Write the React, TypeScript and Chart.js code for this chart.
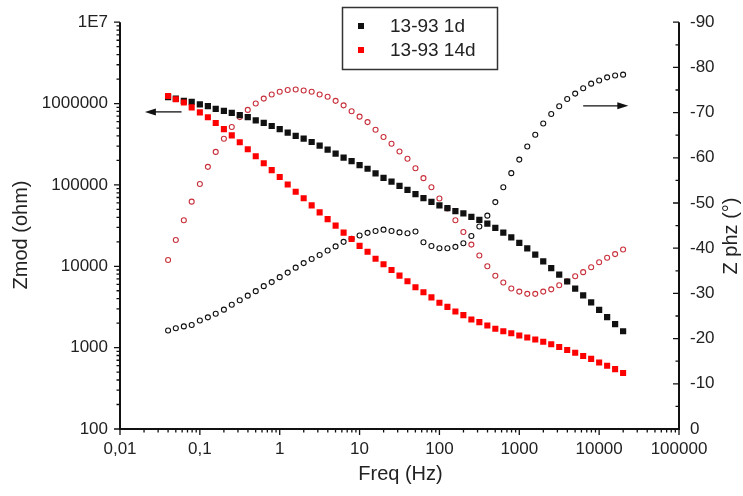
import React, { useEffect, useRef } from 'react';
import { Chart, registerables } from 'chart.js';

Chart.register(...registerables);

const FONT = "'Liberation Sans', Arial, sans-serif";

// Frequencies (Hz)
const freqHz = [
  0.04, 0.05, 0.063, 0.079, 0.1, 0.126, 0.158, 0.2, 0.251, 0.316,
  0.398, 0.501, 0.631, 0.794, 1, 1.259, 1.585, 1.995, 2.512, 3.162,
  3.981, 5.012, 6.31, 7.943, 10, 12.59, 15.85, 19.95, 25.12, 31.62,
  39.81, 50.12, 63.1, 79.43, 100, 125.9, 158.5, 199.5, 251.2, 316.2,
  398.1, 501.2, 631, 794.3, 1000, 1259, 1585, 1995, 2512, 3162,
  3981, 5012, 6310, 7943, 10000, 12589, 15849, 19953,
];

// |Z| (ohm)
const zmod1d = [
  1.2e6, 1.15e6, 1.08e6, 1.05e6, 9.8e5, 9.3e5, 8.6e5, 8.15e5, 7.7e5, 7.2e5,
  6.8e5, 6.2e5, 5.8e5, 5.3e5, 4.85e5, 4.4e5, 4.0e5, 3.7e5, 3.37e5, 3.04e5,
  2.72e5, 2.43e5, 2.17e5, 1.96e5, 1.75e5, 1.58e5, 1.39e5, 1.22e5, 1.1e5, 9.75e4,
  8.7e4, 7.7e4, 6.9e4, 6.2e4, 5.6e4, 5.2e4, 4.77e4, 4.46e4, 4.06e4, 3.71e4,
  3.34e4, 2.96e4, 2.6e4, 2.26e4, 1.94e4, 1.66e4, 1.39e4, 1.15e4, 9.5e3, 7.9e3,
  6.5e3, 5.3e3, 4.4e3, 3.6e3, 2.92e3, 2.37e3, 1.95e3, 1.59e3,
];
const zmod14d = [
  1.24e6, 1.13e6, 1.03e6, 8.97e5, 7.8e5, 6.78e5, 5.78e5, 4.85e5, 4.06e5, 3.34e5,
  2.74e5, 2.25e5, 1.85e5, 1.52e5, 1.25e5, 1.01e5, 8.25e4, 6.85e4, 5.6e4, 4.6e4,
  3.8e4, 3.16e4, 2.59e4, 2.16e4, 1.78e4, 1.51e4, 1.24e4, 1.06e4, 9.0e3, 7.67e3,
  6.56e3, 5.52e3, 4.8e3, 4.15e3, 3.57e3, 3.17e3, 2.78e3, 2.51e3, 2.22e3, 2.06e3,
  1.87e3, 1.71e3, 1.59e3, 1.5e3, 1.41e3, 1.33e3, 1.26e3, 1.18e3, 1.1e3, 1.02e3,
  935, 867, 791, 727, 656, 598, 545, 488,
];

// Phase (degrees)
const phase1d = [
  -21.8, -22.3, -22.7, -23.0, -24.0, -24.7, -25.5, -26.4, -27.5, -28.5,
  -29.5, -30.5, -31.6, -32.5, -33.6, -34.6, -35.7, -36.7, -37.6, -38.5,
  -39.5, -40.4, -41.4, -42.1, -42.8, -43.4, -43.8, -44.1, -43.8, -43.5,
  -43.3, -43.7, -41.3, -40.5, -40.0, -40.0, -40.3, -41.1, -42.7, -44.8,
  -47.2, -50.2, -53.5, -56.6, -59.6, -62.5, -65.1, -67.6, -69.7, -71.4,
  -73.0, -74.2, -75.4, -76.4, -77.1, -77.8, -78.2, -78.4,
];
const phase14d = [
  -37.4, -41.8, -46.2, -50.3, -54.2, -58.0, -61.3, -64.2, -66.8, -69.0,
  -70.6, -72.0, -73.1, -74.0, -74.6, -75.0, -75.1, -74.9, -74.6, -74.0,
  -73.5, -72.6, -71.6, -70.3, -69.1, -67.9, -66.2, -64.6, -63.1, -61.4,
  -59.8, -57.7, -55.5, -53.5, -51.0, -48.8, -46.2, -43.6, -40.8, -38.4,
  -36.0, -33.9, -32.4, -31.1, -30.4, -29.9, -29.9, -30.4, -30.9, -31.8,
  -32.7, -33.8, -34.7, -35.8, -36.9, -37.9, -38.7, -39.7,
];

// Ticks
const xTickValues = [0.01, 0.1, 1, 10, 100, 1000, 10000, 100000];
const xTickLabels = ['0,01', '0,1', '1', '10', '100', '1000', '10000', '100000'];
const yTickValues = [100, 1000, 10000, 100000, 1000000, 10000000];
const yTickLabels = ['100', '1000', '10000', '100000', '1000000', '1E7'];
const phaseTickValues = [-90, -80, -70, -60, -50, -40, -30, -20, -10, 0];
const phaseTickLabels = ['-90', '-80', '-70', '-60', '-50', '-40', '-30', '-20', '-10', '0'];
const minorMultipliers = [2, 3, 4, 5, 6, 7, 8, 9];
const phaseMinorTicks = [-85, -75, -65, -55, -45, -35, -25, -15, -5];

// Labels
const seriesLabels = ['13-93 1d', '13-93 14d'];
const xTitle = 'Freq (Hz)';
const yTitle = 'Zmod (ohm)';
const y2Title = 'Z phz (°)';

// Arrows (data coordinates)
const leftArrow = { fromX: 0.059, toX: 0.0205, y: 7.9e5 };
const rightArrow = { fromX: 6310, toX: 23200, y: -71.5 };

const pts = (ys: number[]) => freqHz.map((f, i) => ({ x: f, y: ys[i] }));

const drawArrow = (ctx: CanvasRenderingContext2D, x1: number, y: number, x2: number) => {
  const dir = Math.sign(x2 - x1);
  ctx.beginPath();
  ctx.moveTo(x1, y);
  ctx.lineTo(x2 - dir * 8, y);
  ctx.lineWidth = 1.3;
  ctx.strokeStyle = '#111';
  ctx.stroke();
  ctx.beginPath();
  ctx.moveTo(x2, y);
  ctx.lineTo(x2 - dir * 11, y - 3.5);
  ctx.lineTo(x2 - dir * 11, y + 3.5);
  ctx.closePath();
  ctx.fillStyle = '#111';
  ctx.fill();
};

const decorPlugin = {
  id: 'decor',
  afterDraw(chart: any) {
    const { ctx, chartArea: ca, scales } = chart;
    const sx = scales.x, sy = scales.y, sy2 = scales.y2;
    ctx.save();
    // axis lines
    ctx.strokeStyle = '#111';
    ctx.lineWidth = 2;
    ctx.beginPath();
    ctx.moveTo(ca.left, ca.top);
    ctx.lineTo(ca.left, ca.bottom);
    ctx.lineTo(ca.right, ca.bottom);
    ctx.lineTo(ca.right, ca.top);
    ctx.stroke();

    ctx.lineWidth = 1.3;
    ctx.beginPath();
    // x ticks (outward, down)
    xTickValues.forEach((dec, di) => {
      const px = sx.getPixelForValue(dec);
      ctx.moveTo(px, ca.bottom);
      ctx.lineTo(px, ca.bottom + 6);
      if (di < xTickValues.length - 1) {
        minorMultipliers.forEach((k) => {
          const p = sx.getPixelForValue(k * dec);
          ctx.moveTo(p, ca.bottom);
          ctx.lineTo(p, ca.bottom + 3.5);
        });
      }
    });
    // left y ticks (outward, left)
    yTickValues.forEach((dec, di) => {
      const py = sy.getPixelForValue(dec);
      ctx.moveTo(ca.left, py);
      ctx.lineTo(ca.left - 6, py);
      if (di < yTickValues.length - 1) {
        minorMultipliers.forEach((k) => {
          const p = sy.getPixelForValue(k * dec);
          ctx.moveTo(ca.left, p);
          ctx.lineTo(ca.left - 3.5, p);
        });
      }
    });
    // right y ticks (inward, left)
    phaseTickValues.forEach((v) => {
      const py = sy2.getPixelForValue(v);
      ctx.moveTo(ca.right, py);
      ctx.lineTo(ca.right - 6, py);
    });
    phaseMinorTicks.forEach((v) => {
      const py = sy2.getPixelForValue(v);
      ctx.moveTo(ca.right, py);
      ctx.lineTo(ca.right - 3.5, py);
    });
    ctx.stroke();

    // arrows
    drawArrow(ctx, sx.getPixelForValue(leftArrow.fromX), sy.getPixelForValue(leftArrow.y), sx.getPixelForValue(leftArrow.toX));
    drawArrow(ctx, sx.getPixelForValue(rightArrow.fromX), sy2.getPixelForValue(rightArrow.y), sx.getPixelForValue(rightArrow.toX));

    // titles
    ctx.fillStyle = '#222';
    ctx.font = `20px ${FONT}`;
    ctx.textAlign = 'center';
    ctx.textBaseline = 'middle';
    ctx.fillText(xTitle, (ca.left + ca.right) / 2 + 1, 474);
    ctx.save();
    ctx.translate(21, 235);
    ctx.rotate(-Math.PI / 2);
    ctx.fillText(yTitle, 0, 0);
    ctx.restore();
    ctx.save();
    ctx.translate(731, 236);
    ctx.rotate(-Math.PI / 2);
    ctx.fillText(y2Title, 0, 0);
    ctx.restore();

    // legend
    ctx.lineWidth = 1.5;
    ctx.strokeStyle = '#333';
    ctx.strokeRect(342.5, 7.5, 155, 62);
    const legendColors = ['#111', '#ff0000'];
    const legendY = [26, 50];
    seriesLabels.forEach((lab, i) => {
      ctx.fillStyle = legendColors[i];
      ctx.fillRect(358, legendY[i] - 3, 6, 6);
      ctx.fillStyle = '#222';
      ctx.textAlign = 'left';
      ctx.font = `19px ${FONT}`;
      ctx.fillText(lab, 390, legendY[i] + 1);
    });
    ctx.restore();
  },
};

export default function App() {
  const ref = useRef<HTMLCanvasElement>(null);
  useEffect(() => {
    const canvas = ref.current!;
    const tickFont = { family: FONT, size: 17 };
    const chart = new Chart(canvas, {
      type: 'scatter',
      data: {
        datasets: [
          {
            label: seriesLabels[1] + ' Zmod',
            data: pts(zmod14d),
            yAxisID: 'y',
            pointStyle: 'rect',
            pointRadius: 4.3,
            borderWidth: 0,
            backgroundColor: '#ff0000',
            borderColor: '#ff0000',
          },
          {
            label: seriesLabels[0] + ' Zmod',
            data: pts(zmod1d),
            yAxisID: 'y',
            pointStyle: 'rect',
            pointRadius: 4.4,
            borderWidth: 0,
            backgroundColor: '#111',
            borderColor: '#111',
          },
          {
            label: seriesLabels[1] + ' phase',
            data: pts(phase14d),
            yAxisID: 'y2',
            pointStyle: 'circle',
            pointRadius: 2.5,
            borderWidth: 1.1,
            backgroundColor: 'rgba(255,255,255,0)',
            borderColor: '#c8303c',
          },
          {
            label: seriesLabels[0] + ' phase',
            data: pts(phase1d),
            yAxisID: 'y2',
            pointStyle: 'circle',
            pointRadius: 2.5,
            borderWidth: 1.1,
            backgroundColor: 'rgba(255,255,255,0)',
            borderColor: '#111',
          },
        ],
      },
      options: {
        animation: false,
        responsive: false,
        devicePixelRatio: 1,
        layout: { padding: { top: 17, left: 0, right: 0, bottom: 0 } },
        plugins: { legend: { display: false }, tooltip: { enabled: false } },
        scales: {
          x: {
            type: 'logarithmic',
            position: 'bottom',
            min: 0.01,
            max: 100000,
            grid: { display: false, drawTicks: false },
            border: { display: false },
            afterBuildTicks: (s: any) => {
              s.ticks = xTickValues.map((v) => ({ value: v }));
            },
            afterFit: (s: any) => {
              s.height = 67;
            },
            ticks: {
              autoSkip: false,
              maxRotation: 0,
              padding: 10,
              color: '#222',
              font: tickFont,
              callback: (_v: any, i: number) => xTickLabels[i],
            },
          },
          y: {
            type: 'logarithmic',
            position: 'left',
            min: 100,
            max: 10000000,
            grid: { display: false, drawTicks: false },
            border: { display: false },
            afterBuildTicks: (s: any) => {
              s.ticks = yTickValues.map((v) => ({ value: v }));
            },
            afterFit: (s: any) => {
              s.width = 120;
            },
            ticks: {
              autoSkip: false,
              padding: 12,
              color: '#222',
              font: tickFont,
              callback: (_v: any, i: number) => yTickLabels[i],
            },
          },
          y2: {
            type: 'linear',
            position: 'right',
            min: -90,
            max: 0,
            reverse: true,
            grid: { display: false, drawTicks: false },
            border: { display: false },
            afterBuildTicks: (s: any) => {
              s.ticks = phaseTickValues.map((v) => ({ value: v }));
            },
            afterFit: (s: any) => {
              s.width = 64;
            },
            ticks: {
              autoSkip: false,
              padding: 11,
              color: '#222',
              font: tickFont,
              callback: (_v: any, i: number) => phaseTickLabels[i],
            },
          },
        },
      },
      plugins: [decorPlugin],
    } as any);
    return () => chart.destroy();
  }, []);
  return (
    <div style={{ position: 'absolute', left: 0, top: 0, width: 743, height: 496, background: '#fff' }}>
      <canvas ref={ref} width={743} height={496} style={{ display: 'block', width: 743, height: 496 }} />
    </div>
  );
}
